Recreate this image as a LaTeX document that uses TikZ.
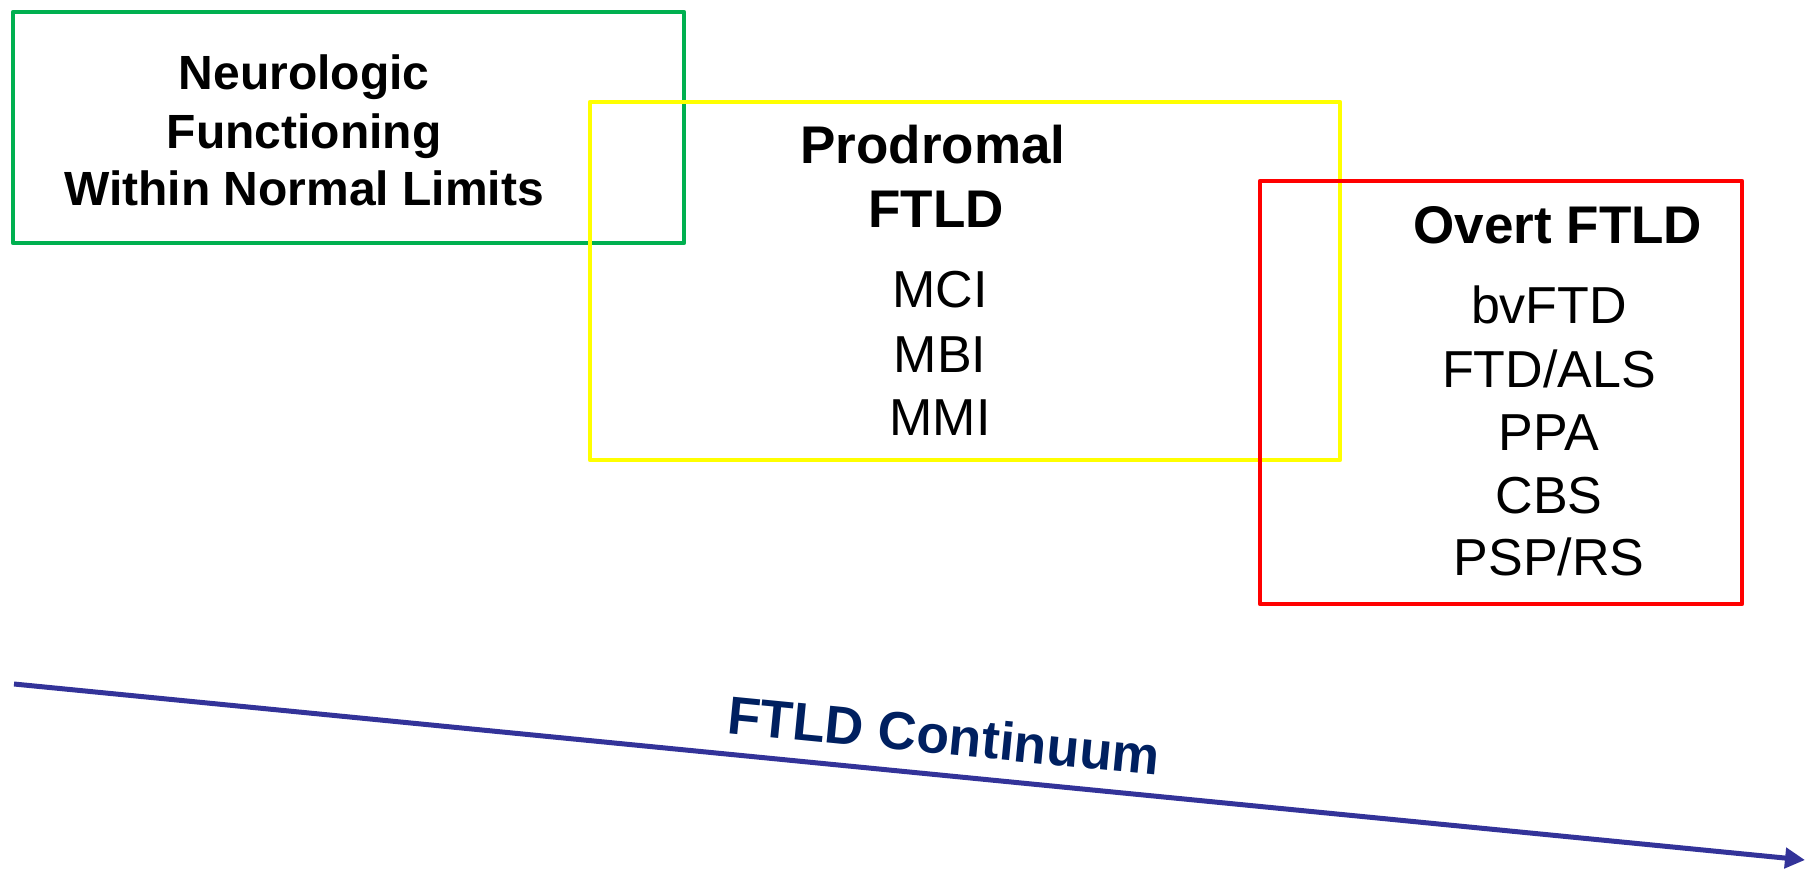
\documentclass[tikz,border=0pt]{standalone}
\usepackage{fontspec}
\setmainfont{Liberation Sans}
\usetikzlibrary{arrows.meta}
\definecolor{cgreen}{HTML}{00B050}
\definecolor{cyellow}{HTML}{FFFF00}
\definecolor{cred}{HTML}{FF0000}
\definecolor{carrow}{HTML}{333399}
\definecolor{ctext}{HTML}{002060}
\begin{document}
\begin{tikzpicture}[x=1pt,y=-1pt,
  stagebox/.style={draw, line width=4.5pt, line join=round, inner sep=0pt, outer sep=0pt},
  headA/.style={font=\fontsize{48}{56}\selectfont\bfseries, anchor=base, inner sep=0pt},
  headB/.style={font=\fontsize{53}{60}\selectfont\bfseries, anchor=base, inner sep=0pt},
  item/.style={font=\fontsize{52}{60}\selectfont, anchor=base, inner sep=0pt},
  contarrow/.style={draw=carrow, line width=5pt, -{Triangle[length=20pt,width=20pt]}}]
\useasboundingbox (0,0) rectangle (1806,872);
% stage boxes
\node[stagebox, draw=cgreen, minimum width=671pt, minimum height=231pt] (normal) at (348.5,127.5) {};
\node[stagebox, draw=cyellow, minimum width=750pt, minimum height=358pt] (prodromal) at (965,281) {};
\node[stagebox, draw=cred, minimum width=482pt, minimum height=423pt] (overt) at (1501,392.5) {};
% normal
\node[headA] (n1) at (304,90) {Neurologic};
\node[headA] (n2) at (304,148) {Functioning};
\node[headA] (n3) at (304,205) {Within Normal Limits};
% prodromal
\node[headB] (p1) at (933,163) {Prodromal};
\node[headB] (p2) at (936,227) {FTLD};
\node[item] (p3) at (940,307) {MCI};
\node[item] (p4) at (940,372) {MBI};
\node[item] (p5) at (940,435) {MMI};
% overt
\node[headB] (o1) at (1558,243) {Overt FTLD};
\node[item] (o2) at (1549,323) {bvFTD};
\node[item] (o3) at (1549,387) {FTD/ALS};
\node[item] (o4) at (1549,450) {PPA};
\node[item] (o5) at (1549,513) {CBS};
\node[item] (o6) at (1549,575) {PSP/RS};
% continuum arrow
\coordinate (cs) at (14,684);
\coordinate (ce) at (1805,860);
\draw[contarrow] (cs) -- (ce)
  node[pos=0.517, sloped, yshift=40pt, text=ctext, inner sep=0pt,
       font=\fontsize{53.5}{60}\selectfont\bfseries] (cont) {FTLD Continuum};
\end{tikzpicture}
\end{document}
